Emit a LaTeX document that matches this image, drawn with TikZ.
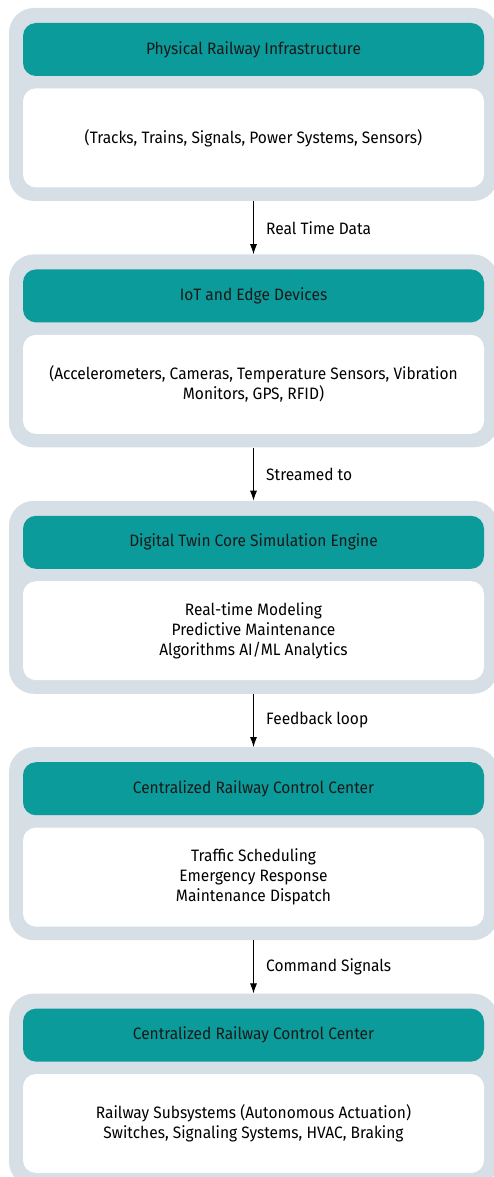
\documentclass[tikz,border=0pt]{standalone}
\usepackage{fontspec}
\setmainfont{Fira Sans}[FakeStretch=0.94]
\usetikzlibrary{positioning,arrows.meta}
\definecolor{layergrey}{HTML}{D6DEE6}
\definecolor{headteal}{HTML}{0A9B9A}
\tikzset{
    layer/.style={fill=layergrey,rounded corners=25pt,minimum width=489pt,minimum height=193pt,inner sep=0pt},
    head/.style={fill=headteal,rounded corners=13pt,minimum width=461pt,minimum height=53pt,inner sep=0pt,font=\fontsize{16.5}{20}\selectfont,text=black!90},
    body/.style={fill=white,rounded corners=13pt,minimum width=461pt,minimum height=99pt,inner sep=0pt,align=center,font=\fontsize{16.5}{20}\selectfont},
    flow/.style={-{Latex[length=10pt,width=7pt]},line width=0.8pt},
    flowlabel/.style={right,font=\fontsize{16.5}{20}\selectfont,xshift=9pt}
}
\begin{document}
\begin{tikzpicture}
    \useasboundingbox (0,0) rectangle (494pt,-1177pt);
    \node [layer] (layer1) at (253.5pt,-104.5pt) {};
    \node [layer,below=53pt of layer1] (layer2) {};
    \node [layer,below=53pt of layer2] (layer3) {};
    \node [layer,below=53pt of layer3] (layer4) {};
    \node [layer,below=53pt of layer4] (layer5) {};
    \node [head,below=15pt of layer1.north] (head1) {Physical Railway Infrastructure};
    \node [body,below=12pt of head1] (body1) {(Tracks, Trains, Signals, Power Systems, Sensors)};
    \node [head,below=15pt of layer2.north] (head2) {IoT and Edge Devices};
    \node [body,below=12pt of head2] (body2) {(Accelerometers, Cameras, Temperature Sensors, Vibration\\Monitors, GPS, RFID)};
    \node [head,below=15pt of layer3.north] (head3) {Digital Twin Core Simulation Engine};
    \node [body,below=12pt of head3] (body3) {Real-time Modeling\\Predictive Maintenance\\Algorithms AI/ML Analytics};
    \node [head,below=15pt of layer4.north] (head4) {Centralized Railway Control Center};
    \node [body,below=12pt of head4] (body4) {Traffic Scheduling\\Emergency Response\\Maintenance Dispatch};
    \node [head,below=15pt of layer5.north] (head5) {Centralized Railway Control Center};
    \node [body,below=12pt of head5] (body5) {Railway Subsystems (Autonomous Actuation)\\Switches, Signaling Systems, HVAC, Braking};
    \draw [flow] (layer1) to node [flowlabel] (label1) {Real Time Data} (layer2);
    \draw [flow] (layer2) to node [flowlabel] (label2) {Streamed to} (layer3);
    \draw [flow] (layer3) to node [flowlabel] (label3) {Feedback loop} (layer4);
    \draw [flow] (layer4) to node [flowlabel] (label4) {Command Signals} (layer5);
\end{tikzpicture}
\end{document}
